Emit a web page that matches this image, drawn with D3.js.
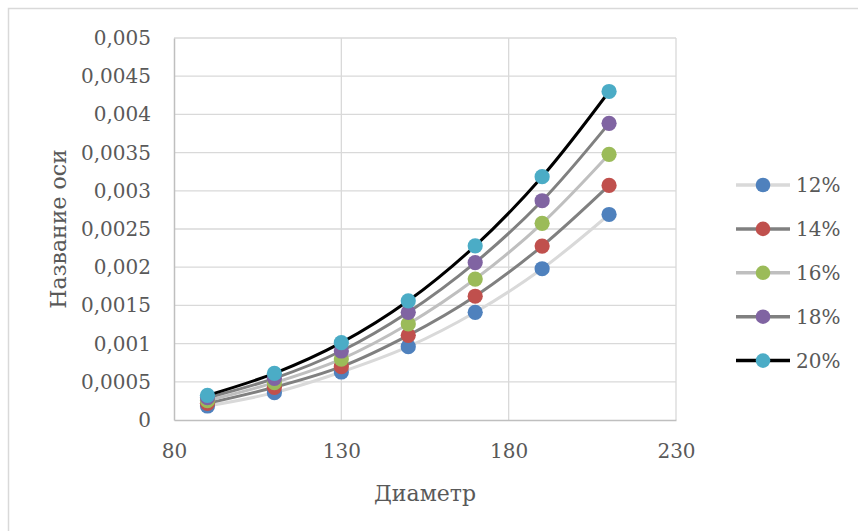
<!DOCTYPE html>
<html><head><meta charset="utf-8">
<script src="https://cdn.jsdelivr.net/npm/d3@7"></script>
<style>
html,body{margin:0;padding:0;background:#fff;}
svg{display:block;}
text{font-family:"DejaVu Serif","Liberation Serif",serif;fill:#595959;}
</style></head>
<body>
<svg id="c" width="858" height="531"></svg>
<script>
const diameters = [90, 110, 130, 150, 170, 190, 210];
const seriesNames = ["12%", "14%", "16%", "18%", "20%"];
const s12 = [0.000183, 0.000358, 0.000628, 0.00096, 0.00141, 0.00198, 0.00269];
const s14 = [0.000218, 0.000428, 0.000698, 0.001108, 0.00162, 0.002277, 0.00307];
const s16 = [0.000253, 0.000489, 0.000798, 0.001257, 0.001845, 0.002574, 0.003477];
const s18 = [0.000292, 0.000545, 0.000903, 0.00141, 0.00206, 0.00287, 0.003883];
const s20 = [0.000323, 0.000611, 0.001012, 0.00156, 0.00228, 0.003185, 0.0043];
const xTicks = [80, 130, 180, 230];
const yTicks = [0, 0.0005, 0.001, 0.0015, 0.002, 0.0025, 0.003, 0.0035, 0.004, 0.0045, 0.005];
const markerColors = ["#4f81bd", "#c0504d", "#9bbb59", "#8064a2", "#4bacc6"];
const lineColors = ["#d9d9d9", "#808080", "#bfbfbf", "#808080", "#000000"];
const xTitle = "Диаметр";
const yTitle = "Название оси";

const allSeries = [s12, s14, s16, s18, s20];
const svg = d3.select("#c");

// outer chart border
svg.append("rect").attr("x", 8.5).attr("y", 8.5).attr("width", 900).attr("height", 600)
  .attr("fill", "none").attr("stroke", "#d9d9d9").attr("stroke-width", 1.5);

const L = 174, R = 676, T = 38, B = 420;
const x = d3.scaleLinear().domain([80, 230]).range([L, R]);
const y = d3.scaleLinear().domain([0, 0.005]).range([B, T]);
const fmt = v => v === 0 ? "0" : String(+v.toFixed(4)).replace(".", ",");

// gridlines
svg.append("g").selectAll("line").data(yTicks.filter(v => v > 0)).join("line")
  .attr("x1", L).attr("x2", R).attr("y1", d => y(d)).attr("y2", d => y(d))
  .attr("stroke", "#d9d9d9").attr("stroke-width", 1.3);
svg.append("g").selectAll("line").data(xTicks.filter(v => v > 80)).join("line")
  .attr("y1", T).attr("y2", B).attr("x1", d => x(d)).attr("x2", d => x(d))
  .attr("stroke", "#d9d9d9").attr("stroke-width", 1.3);

// axes
const yAxis = svg.append("g").attr("transform", `translate(${L},0)`)
  .call(d3.axisLeft(y).tickValues(yTicks).tickFormat(fmt).tickSize(0).tickPadding(23));
const xAxis = svg.append("g").attr("transform", `translate(0,${B})`)
  .call(d3.axisBottom(x).tickValues(xTicks).tickFormat(d3.format("d")).tickSize(0).tickPadding(24));
[yAxis, xAxis].forEach(g => {
  g.select(".domain").attr("stroke", "#bfbfbf").attr("stroke-width", 1.5);
  g.selectAll("text").attr("font-size", 20).attr("fill", "#595959")
    .attr("font-family", '"DejaVu Serif","Liberation Serif",serif');
});

// titles
svg.append("text").attr("x", 425).attr("y", 501).attr("text-anchor", "middle")
  .attr("font-size", 22).text(xTitle);
svg.append("text").attr("transform", "translate(66,229) rotate(-90)").attr("text-anchor", "middle")
  .attr("font-size", 22).text(yTitle);

// lines
const line = d3.line().x(d => x(d[0])).y(d => y(d[1])).curve(d3.curveCatmullRom.alpha(0.5));
allSeries.forEach((s, i) => {
  const pts = diameters.map((d, j) => [d, s[j]]);
  svg.append("path").attr("d", line(pts)).attr("fill", "none")
    .attr("stroke", lineColors[i]).attr("stroke-width", 3);
});
// markers
allSeries.forEach((s, i) => {
  svg.append("g").selectAll("circle").data(diameters.map((d, j) => [d, s[j]])).join("circle")
    .attr("cx", d => x(d[0])).attr("cy", d => y(d[1])).attr("r", 7.6)
    .attr("fill", markerColors[i]);
});

// legend
const lg = svg.append("g");
seriesNames.forEach((n, i) => {
  const yy = 185 + i * 43.9;
  lg.append("line").attr("x1", 736).attr("x2", 790).attr("y1", yy).attr("y2", yy)
    .attr("stroke", lineColors[i]).attr("stroke-width", 3.5);
  lg.append("circle").attr("cx", 763).attr("cy", yy).attr("r", 7.3).attr("fill", markerColors[i]);
  lg.append("text").attr("x", 796).attr("y", yy).attr("dy", "0.36em").attr("font-size", 20).text(n);
});
</script>
</body></html>
